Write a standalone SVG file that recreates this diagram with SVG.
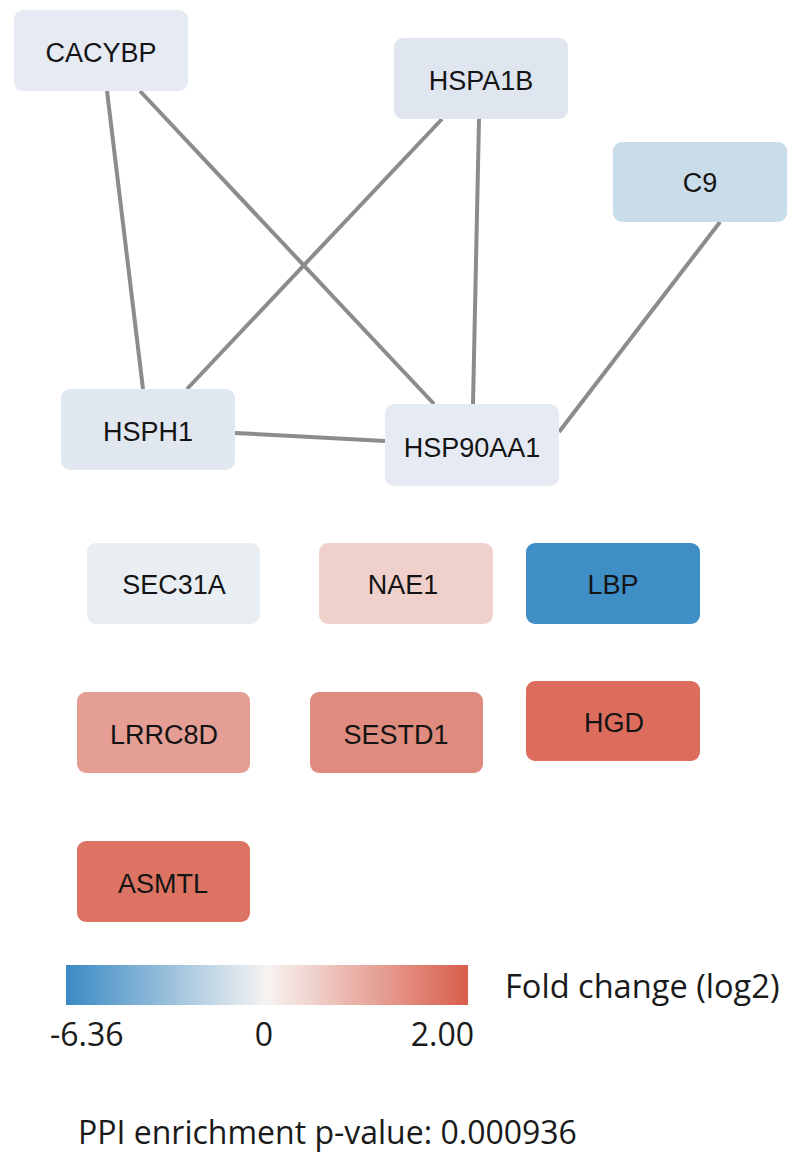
<svg xmlns="http://www.w3.org/2000/svg" width="792" height="1152" viewBox="0 0 792 1152">
  <style>
    .node rect { rx: 9px; ry: 9px; }
    .node text { font-family: "Liberation Sans", Arial, sans-serif; font-size: 27px; fill: #141414; text-anchor: middle; }
    .edge { stroke: #8c8c8c; stroke-width: 4; stroke-linecap: butt; fill: none; }
    .legend { font-family: "Open Sans", "Liberation Sans", sans-serif; font-size: 32px; fill: #1a1a1a; }
  </style>
  <defs>
    <linearGradient id="fc" x1="0" y1="0" x2="1" y2="0">
      <stop offset="0" stop-color="#3a8ac4"/>
      <stop offset="0.5" stop-color="#f6f4f2"/>
      <stop offset="1" stop-color="#d95d4a"/>
    </linearGradient>
  </defs>
  <rect width="792" height="1152" fill="#ffffff"/>

  <g id="connectors">
    <line class="edge" x1="107" y1="91" x2="143" y2="389"/>
    <line class="edge" x1="140" y1="91" x2="434" y2="404"/>
    <line class="edge" x1="442" y1="119" x2="187" y2="389"/>
    <line class="edge" x1="479" y1="119" x2="473" y2="404"/>
    <line class="edge" x1="720" y1="222" x2="559" y2="432"/>
    <line class="edge" x1="235" y1="433" x2="385" y2="441"/>
  </g>

  <g id="node-CACYBP" class="node">
    <rect x="14" y="10" width="174" height="81" fill="#e6ebf3"/>
    <text x="101" y="62">CACYBP</text>
  </g>
  <g id="node-HSPA1B" class="node">
    <rect x="394" y="38" width="174" height="81" fill="#dfe6ef"/>
    <text x="481" y="90">HSPA1B</text>
  </g>
  <g id="node-C9" class="node">
    <rect x="613" y="142" width="174" height="80" fill="#c9dcea"/>
    <text x="700" y="192">C9</text>
  </g>
  <g id="node-HSPH1" class="node">
    <rect x="61" y="389" width="174" height="81" fill="#e0e7ef"/>
    <text x="148" y="441">HSPH1</text>
  </g>
  <g id="node-HSP90AA1" class="node">
    <rect x="385" y="404" width="174" height="82" fill="#e6ebf3"/>
    <text x="472" y="457">HSP90AA1</text>
  </g>
  <g id="node-SEC31A" class="node">
    <rect x="87" y="543" width="173" height="81" fill="#e9eef2"/>
    <text x="174" y="594">SEC31A</text>
  </g>
  <g id="node-NAE1" class="node">
    <rect x="319" y="543" width="174" height="81" fill="#efd0cb"/>
    <text x="403" y="594">NAE1</text>
  </g>
  <g id="node-LBP" class="node">
    <rect x="526" y="543" width="174" height="81" fill="#3f8ec6"/>
    <text x="613" y="594">LBP</text>
  </g>
  <g id="node-LRRC8D" class="node">
    <rect x="77" y="692" width="173" height="81" fill="#e49e94"/>
    <text x="164" y="744">LRRC8D</text>
  </g>
  <g id="node-SESTD1" class="node">
    <rect x="310" y="692" width="173" height="81" fill="#df8b7e"/>
    <text x="396" y="744">SESTD1</text>
  </g>
  <g id="node-HGD" class="node">
    <rect x="526" y="681" width="174" height="80" fill="#dc6d5c"/>
    <text x="614" y="732">HGD</text>
  </g>
  <g id="node-ASMTL" class="node">
    <rect x="77" y="841" width="173" height="81" fill="#dd7463"/>
    <text x="163" y="893">ASMTL</text>
  </g>

  <g id="legend">
    <rect x="66" y="965" width="402" height="40" fill="url(#fc)"/>
    <text class="legend" x="505" y="998" style="font-size:32.6px">Fold change (log2)</text>
    <text class="legend" x="50" y="1046">-6.36</text>
    <text class="legend" x="264" y="1046" text-anchor="middle">0</text>
    <text class="legend" x="474" y="1046" text-anchor="end">2.00</text>
    <text class="legend" x="78" y="1144">PPI enrichment p-value: 0.000936</text>
  </g>
</svg>
